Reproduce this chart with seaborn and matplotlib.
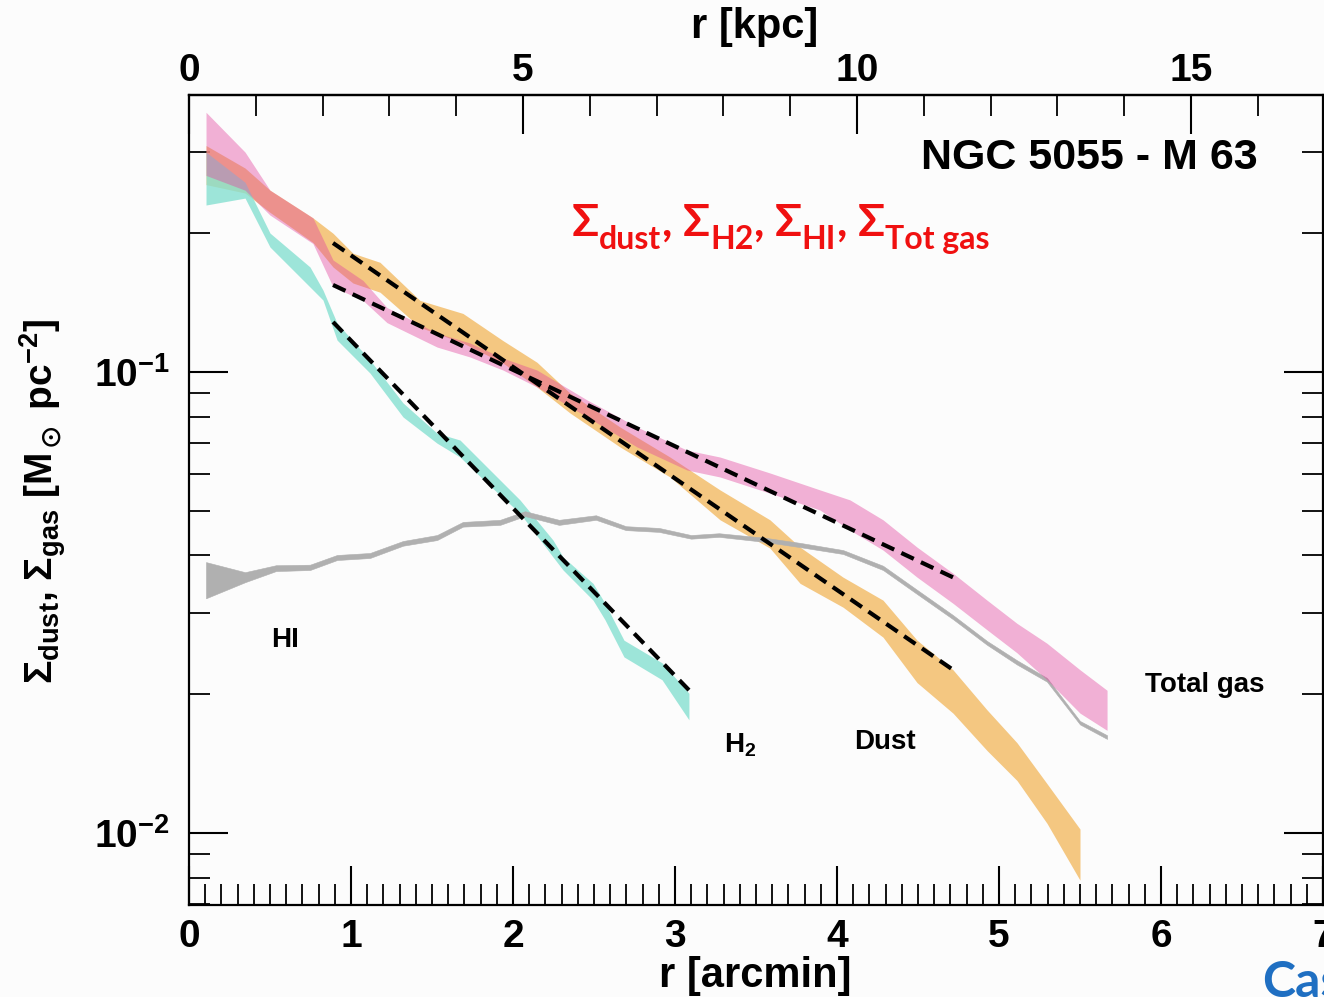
import numpy as np
import pandas as pd
import matplotlib
matplotlib.use("Agg")
import matplotlib.pyplot as plt
import seaborn as sns
from matplotlib.ticker import MultipleLocator, LogLocator, NullFormatter, FixedLocator

# ---------------- data ----------------
KPC_PER_ARCMIN = 2.425
KPC_MAJOR = [0, 5, 10, 15]
KPC_MINOR = list(range(1, 17))

# Dust surface density band (arcmin, lower, upper)  [Msun pc^-2]
DUST_R = [0.105, 0.346, 0.500, 0.765, 0.889, 1.012, 1.179, 1.426, 1.691, 1.938, 2.148, 2.352,
          2.660, 2.969, 3.278, 3.586, 3.772, 4.037, 4.284, 4.494, 4.716, 4.926, 5.111, 5.296, 5.500]
DUST_HI = [0.310, 0.277, 0.248, 0.216, 0.200, 0.181, 0.173, 0.143, 0.134, 0.117, 0.105, 0.090,
           0.076, 0.0654, 0.0555, 0.0478, 0.0417, 0.0359, 0.0320, 0.0262, 0.0226, 0.0185, 0.0157, 0.0128, 0.0102]
DUST_LO = [0.255, 0.2445, 0.222, 0.191, 0.169, 0.156, 0.149, 0.125, 0.1156, 0.1046, 0.0928, 0.0815,
           0.0688, 0.0592, 0.0478, 0.0415, 0.0348, 0.0309, 0.0266, 0.0212, 0.0182, 0.0151, 0.0130, 0.0105, 0.0079]

# Total gas band
GAS_R = [0.105, 0.346, 0.500, 0.765, 0.889, 1.074, 1.222, 1.531, 1.735, 1.938, 2.148, 2.457, 2.765,
         3.074, 3.278, 3.586, 3.895, 4.080, 4.284, 4.494, 4.716, 4.926, 5.111, 5.296, 5.500, 5.667]
GAS_HI = [0.366, 0.300, 0.248, 0.216, 0.175, 0.158, 0.138, 0.1215, 0.1156, 0.1072, 0.101, 0.087, 0.076,
          0.0677, 0.0654, 0.0604, 0.0555, 0.0528, 0.0478, 0.0417, 0.0366, 0.0320, 0.0285, 0.0258, 0.0226, 0.0204]
GAS_LO = [0.267, 0.248, 0.219, 0.190, 0.153, 0.143, 0.128, 0.1133, 0.1078, 0.101, 0.0928, 0.0799, 0.0688,
          0.0613, 0.0592, 0.0546, 0.0502, 0.0454, 0.0411, 0.0359, 0.0315, 0.0276, 0.0246, 0.0215, 0.0182, 0.0167]

# H2 band
H2_R = [0.105, 0.346, 0.500, 0.747, 0.827, 0.914, 1.117, 1.321, 1.531, 1.673, 1.840, 2.043, 2.247,
        2.309, 2.494, 2.568, 2.685, 2.920, 3.086]
H2_HI = [0.300, 0.258, 0.2002, 0.169, 0.1506, 0.1277, 0.1062, 0.0857, 0.0737, 0.0712, 0.0622, 0.0528,
         0.0432, 0.0397, 0.0348, 0.0315, 0.0262, 0.0234, 0.0201]
H2_LO = [0.2303, 0.2384, 0.1867, 0.1529, 0.1433, 0.1173, 0.0995, 0.0799, 0.0701, 0.0654, 0.0574, 0.0494,
         0.0397, 0.0372, 0.0320, 0.0290, 0.0241, 0.0215, 0.0176]

# HI band (narrow)
HI_R = [0.105, 0.346, 0.537, 0.747, 0.914, 1.117, 1.321, 1.531, 1.691, 1.920, 2.074, 2.284, 2.512, 2.697,
        2.901, 3.099, 3.272, 3.556, 3.772, 4.037, 4.284, 4.494, 4.716, 4.926, 5.111, 5.296, 5.500, 5.667]
HI_LO = [0.0323, 0.0350, 0.0370, 0.0372, 0.0391, 0.0395, 0.0420, 0.0432, 0.0462, 0.0466, 0.0487, 0.0466,
         0.0478, 0.0454, 0.0450, 0.0435, 0.0439, 0.0428, 0.0417, 0.0403, 0.0372, 0.0330, 0.0291, 0.0256,
         0.0232, 0.0213, 0.0172, 0.0160]
HI_HI = [0.0387, 0.0368, 0.0381, 0.0382, 0.0401, 0.0405, 0.0430, 0.0443, 0.0473, 0.0478, 0.0499, 0.0478,
         0.0489, 0.0463, 0.0459, 0.0443, 0.0447, 0.0437, 0.0426, 0.0411, 0.0380, 0.0337, 0.0297, 0.0261,
         0.0237, 0.0217, 0.0175, 0.0163]

# exponential fits (end points)
FIT_DUST_R = [0.889, 4.716]
FIT_DUST_S = [0.1905, 0.0226]
FIT_GAS_R = [0.889, 4.728]
FIT_GAS_S = [0.1545, 0.0357]
FIT_H2_R = [0.889, 3.105]
FIT_H2_S = [0.1284, 0.0201]

# ---------------- style ----------------
W, H = 1324, 997
BG = "#fcfcfc"
sns.set_theme(style="ticks")
plt.rcParams["font.family"] = ["Liberation Sans", "DejaVu Sans"]
plt.rcParams["font.weight"] = "bold"
plt.rcParams["text.color"] = "black"
plt.rcParams["xtick.color"] = "black"
plt.rcParams["ytick.color"] = "black"
plt.rcParams["axes.edgecolor"] = "black"
plt.rcParams["mathtext.fontset"] = "custom"
plt.rcParams["mathtext.rm"] = "Liberation Sans:bold"
plt.rcParams["mathtext.it"] = "Liberation Sans:bold"
plt.rcParams["mathtext.bf"] = "Liberation Sans:bold"
plt.rcParams["mathtext.sf"] = "Liberation Sans:bold"
plt.rcParams["mathtext.fallback"] = "stixsans"
plt.rcParams["axes.linewidth"] = 1.6

fig = plt.figure(figsize=(W / 100, H / 100), dpi=100, facecolor=BG)
ax = fig.add_axes([189 / W, (H - 905) / H, (1323 - 189) / W, (905 - 95) / H])
ax.set_facecolor(BG)
ax.set_yscale("log")
ax.set_xlim(0, 7)
ax.set_ylim(0.00698, 0.399)

ORANGE = "#f2ba63"
PINK = "#e2479f"
CYAN = "#86e0d1"
GREY = "#b0b0b0"

ax.fill_between(DUST_R, DUST_LO, DUST_HI, color=ORANGE, alpha=0.8, lw=0, zorder=2)
ax.fill_between(H2_R, H2_LO, H2_HI, color=CYAN, alpha=0.8, lw=0, zorder=2.2)
ax.fill_between(HI_R, HI_LO, HI_HI, facecolor=GREY, edgecolor=GREY, lw=0.4, zorder=2.3)
ax.fill_between(GAS_R, GAS_LO, GAS_HI, color=PINK, alpha=0.42, lw=0, zorder=2.5)

fits = pd.concat([
    pd.DataFrame({"r": FIT_DUST_R, "s": FIT_DUST_S, "fit": "dust"}),
    pd.DataFrame({"r": FIT_GAS_R, "s": FIT_GAS_S, "fit": "gas"}),
    pd.DataFrame({"r": FIT_H2_R, "s": FIT_H2_S, "fit": "h2"}),
])
for name, g in fits.groupby("fit"):
    sns.lineplot(data=g, x="r", y="s", ax=ax, color="black", lw=3.0,
                 linestyle=(0, (3.3, 1.9)), zorder=4, legend=False)
ax.set_xlabel("")
ax.set_ylabel("")

# ticks
ax.xaxis.set_major_locator(MultipleLocator(1))
ax.xaxis.set_minor_locator(MultipleLocator(0.1))
ax.yaxis.set_major_locator(LogLocator(base=10))
ax.yaxis.set_minor_locator(LogLocator(base=10, subs=np.arange(2, 10)))
ax.yaxis.set_minor_formatter(NullFormatter())
ax.tick_params(which="both", direction="in", top=False, right=True, color="black")
ax.tick_params(which="major", length=28, width=1.5, labelsize=28, pad=10)
ax.tick_params(which="minor", length=15, width=1.3)
ax.tick_params(axis="y", which="major", pad=14)
for sp in ax.spines.values():
    sp.set_color("black")

sec = ax.secondary_xaxis("top", functions=(lambda a: a * KPC_PER_ARCMIN, lambda k: k / KPC_PER_ARCMIN))
sec.xaxis.set_major_locator(FixedLocator(KPC_MAJOR))
sec.xaxis.set_minor_locator(FixedLocator(KPC_MINOR))
sec.tick_params(which="both", direction="in", color="black")
sec.tick_params(which="major", length=28, width=1.5, labelsize=28, pad=4)
sec.tick_params(which="minor", length=15, width=1.3)
sec.spines["top"].set_color("black")

def ftxt(px, py, s, **kw):
    return fig.text(px / W, 1 - py / H, s, **kw)

ftxt(755, 27, "r [kpc]", ha="center", va="center", fontsize=30, weight="bold")
ftxt(755, 976, "r [arcmin]", ha="center", va="center", fontsize=30, weight="bold")
ftxt(43, 501, r"$\Sigma_{\rm dust}$, $\Sigma_{\rm gas}$ [M$_\odot$ pc$^{-2}$]",
     rotation=90, ha="center", va="center", fontsize=28, weight="bold")

ftxt(1258, 158, "NGC 5055 - M 63", ha="right", va="center", fontsize=31, weight="bold")
ftxt(285, 640, "HI", ha="center", va="center", fontsize=20, weight="bold")
ftxt(740, 745, r"H$_{2}$", ha="center", va="center", fontsize=20, weight="bold")
ftxt(885, 742, "Dust", ha="center", va="center", fontsize=20, weight="bold")
ftxt(1205, 685, "Total gas", ha="center", va="center", fontsize=20, weight="bold")

# red overlay title built from pieces
RED = "#f01010"
renderer = fig.canvas.get_renderer()
parts = [("Σ", 32, 0), ("dust", 23, 13), (",", 32, 0), (" Σ", 32, 0), ("H2", 23, 13), (",", 32, 0),
         (" Σ", 32, 0), ("HI", 23, 13), (",", 32, 0), (" Σ", 32, 0), ("Tot gas", 23, 13)]
x = 572
for s, size, dy in parts:
    t = ftxt(x, 236 + dy, s, ha="left", va="baseline", fontsize=size, color=RED,
             family=["Lato", "DejaVu Sans"], weight="bold")
    x = t.get_window_extent(renderer).x1

ftxt(1262, 960, "Cas", ha="left", va="top", fontsize=36, color="#1f6fc2",
     family=["Lato", "DejaVu Sans"], weight="bold")

fig.savefig("out.png", dpi=100, facecolor=fig.get_facecolor())
